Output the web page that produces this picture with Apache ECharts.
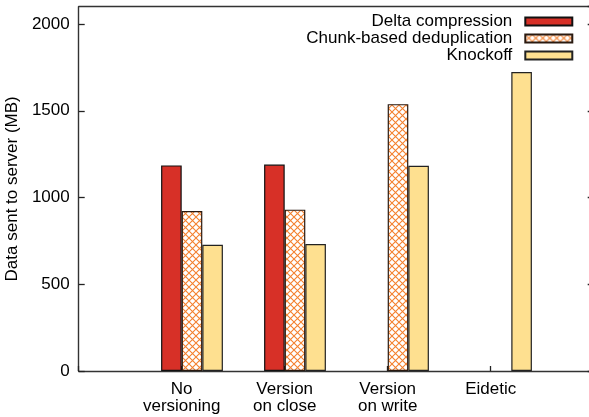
<!DOCTYPE html>
<html>
<head>
<meta charset="utf-8">
<script src="https://cdn.jsdelivr.net/npm/echarts@6/dist/echarts.min.js"></script>
<style>
  html, body { margin: 0; padding: 0; background: #fff; overflow: hidden; }
  #chart { width: 589px; height: 417px; }
</style>
</head>
<body>
<div id="chart"></div>
<script>
// Workload categories (x axis), one cluster of bars each
const categories = ['No\nversioning', 'Version\non close', 'Version\non write', 'Eidetic'];

// Data sent to server, in MB (null = not applicable)
const deltaCompression = [1185, 1190, null, null];
const chunkDedup = [922, 930, 1538, null];
const knockoff = [728, 732, 1183, 1723];

const seriesNames = ['Delta compression', 'Chunk-based deduplication', 'Knockoff'];
const yTicks = [0, 500, 1000, 1500, 2000];

const FONT = "'Liberation Sans', Arial, Helvetica, sans-serif";
const FRAME = { color: '#333', width: 1.4 };
const TICK = { color: '#222', width: 1.3 };

// Crosshatch fill for the deduplication bars
function crossHatch() {
  const s = 7;
  const c = document.createElement('canvas');
  c.width = s; c.height = s;
  const g = c.getContext('2d');
  g.fillStyle = '#ffffff';
  g.fillRect(0, 0, s, s);
  g.strokeStyle = '#f4812f';
  g.lineWidth = 1.1;
  g.beginPath();
  g.moveTo(0, 0); g.lineTo(s, s);
  g.moveTo(s, 0); g.lineTo(0, s);
  g.stroke();
  return c;
}

// Axis has a blank slot on each side so the clusters sit between the frame edges
const axisCats = [''].concat(categories, ['']);
const pad = arr => [null].concat(arr, [null]);

const chart = echarts.init(document.getElementById('chart'), null, { renderer: 'canvas' });

const barBase = { type: 'bar', barWidth: 20.6, barGap: '0%', z: 3 };

chart.setOption({
  animation: false,
  backgroundColor: '#ffffff',
  textStyle: { fontFamily: FONT },
  grid: {
    left: 78.7, right: -4.7, top: 6.65, bottom: 46,
    containLabel: false, outerBoundsMode: 'none', show: false
  },
  legend: {
    data: seriesNames, orient: 'vertical', align: 'right', right: 15.7, top: 13, padding: 0,
    itemWidth: 47, itemHeight: 8, itemGap: 0, icon: 'rect',
    textStyle: { fontSize: 17, lineHeight: 17, color: '#000', fontFamily: FONT, padding: [0, 8, 0, 0] }
  },
  xAxis: [
    {
      type: 'category', data: axisCats, boundaryGap: false, position: 'bottom',
      axisLine: { show: true, onZero: false, lineStyle: FRAME },
      axisTick: { show: true, inside: true, length: 5, interval: 0, lineStyle: TICK },
      axisLabel: { color: '#000', fontSize: 17, lineHeight: 17, margin: 10, fontFamily: FONT, interval: 0 },
      splitLine: { show: false }
    },
    {
      // top edge of the frame
      type: 'category', data: axisCats, boundaryGap: false, position: 'top',
      axisLine: { show: true, onZero: false, lineStyle: FRAME },
      axisTick: { show: false }, axisLabel: { show: false }, splitLine: { show: false }
    }
  ],
  yAxis: [
    {
      type: 'value', min: 0, max: 2100, interval: 500,
      name: 'Data sent to server (MB)', nameLocation: 'middle', nameGap: 50,
      nameTextStyle: { fontSize: 17, color: '#000', fontFamily: FONT },
      axisLine: { show: true, onZero: false, lineStyle: FRAME },
      axisTick: { show: true, inside: true, length: 6, lineStyle: TICK },
      axisLabel: { color: '#000', fontSize: 17, margin: 9, fontFamily: FONT, showMaxLabel: false,
        formatter: v => (yTicks.indexOf(v) >= 0 ? String(v) : '') },
      splitLine: { show: false }
    },
    {
      // right edge lies just past the visible area; only its inward ticks show
      type: 'value', position: 'right', min: 0, max: 2100, interval: 500,
      axisLine: { show: true, onZero: false, lineStyle: FRAME },
      axisTick: { show: true, inside: true, length: 6, lineStyle: TICK },
      axisLabel: { show: false }, splitLine: { show: false }
    }
  ],
  series: [
    // empty leading slot: shifts each cluster so the middle bar starts at the tick
    Object.assign({}, barBase, { name: 'spacer', data: pad([null, null, null, null]), silent: true }),
    Object.assign({}, barBase, { name: seriesNames[0], data: pad(deltaCompression),
      itemStyle: { color: '#d73027', borderColor: '#111', borderWidth: 1.2 } }),
    Object.assign({}, barBase, { name: seriesNames[1], data: pad(chunkDedup),
      itemStyle: { color: { image: crossHatch(), repeat: 'repeat' }, borderColor: '#2a1a10', borderWidth: 1.2 } }),
    Object.assign({}, barBase, { name: seriesNames[2], data: pad(knockoff),
      itemStyle: { color: '#fee090', borderColor: '#222', borderWidth: 1.2 } })
  ]
});
</script>
</body>
</html>
